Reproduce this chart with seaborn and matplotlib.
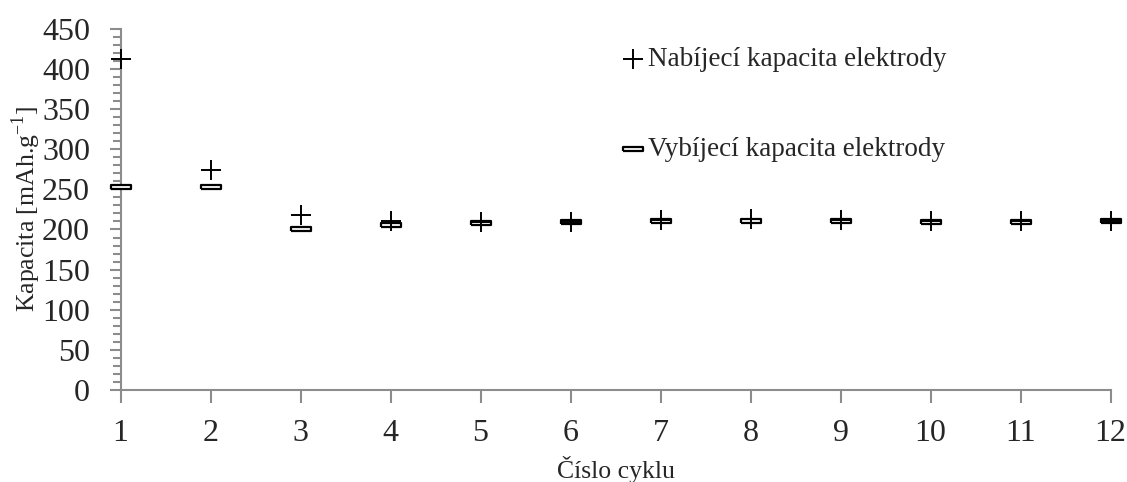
import pandas as pd
import matplotlib
matplotlib.use("Agg")
import matplotlib.pyplot as plt
import seaborn as sb
from matplotlib.ticker import MultipleLocator

# data
cycles = [1, 2, 3, 4, 5, 6, 7, 8, 9, 10, 11, 12]
charge = [413, 274, 218, 210, 209, 209, 212, 213, 212, 210, 210, 211]
discharge = [253, 253, 201, 206, 208, 209, 211, 211, 211, 209, 209, 210]

label_charge = "Nabíjecí kapacita elektrody"
label_discharge = "Vybíjecí kapacita elektrody"

sb.set_style("white")
plt.rcParams['font.family'] = ['Liberation Serif', 'DejaVu Serif']
plt.rcParams['mathtext.fontset'] = 'custom'
plt.rcParams['mathtext.rm'] = 'Liberation Serif'

df = pd.DataFrame({'cyklus': cycles, 'nab': charge, 'vyb': discharge})

fig = plt.figure(figsize=(11.27, 4.82), dpi=100)
ax = fig.add_axes([0.107, 0.191, 0.8785, 0.749])

# flat box marker for discharge
box = [(-1, -0.25), (1, -0.25), (1, 0.25), (-1, 0.25), (-1, -0.25)]

sb.scatterplot(data=df, x='cyklus', y='vyb', marker=box, s=200,
               facecolor='white', edgecolor='black', linewidth=1.6,
               label=label_discharge, ax=ax, zorder=3, clip_on=False)
sb.scatterplot(data=df, x='cyklus', y='nab', marker='+', s=200,
               color='black', linewidth=1.4, label=label_charge, ax=ax,
               zorder=4, clip_on=False)

ax.set_xlim(1, 12)
ax.set_ylim(0, 450)
ax.set_xticks(cycles)
ax.yaxis.set_major_locator(MultipleLocator(50))
ax.yaxis.set_minor_locator(MultipleLocator(10))

for s in ['top', 'right']:
    ax.spines[s].set_visible(False)
for s in ['left', 'bottom']:
    ax.spines[s].set_color('#8c8c8c')
    ax.spines[s].set_linewidth(1.5)

ax.tick_params(axis='y', which='major', direction='out', length=8, width=1.5,
               color='#8c8c8c', labelsize=23, pad=14, left=True)
ax.tick_params(axis='y', which='minor', direction='out', length=6, width=1.5,
               color='#8c8c8c', left=True)
ax.tick_params(axis='x', which='major', direction='out', length=9, width=1.5,
               color='#8c8c8c', labelsize=23, pad=12, bottom=True)

ax.set_xlabel("Číslo cyklu", fontsize=18.5, labelpad=6)
ax.set_ylabel(r"Kapacita [mAh.g$^{\mathregular{-1}}$]", fontsize=18.5, labelpad=-1)

h, l = ax.get_legend_handles_labels()
leg = ax.legend(h[::-1], l[::-1], frameon=False, loc='upper left',
                bbox_to_anchor=(0.481, 1.017), fontsize=19.5, labelspacing=2.38,
                handletextpad=0.1, handlelength=0.9, markerscale=1.0)

plt.savefig('out.png', dpi=100)
